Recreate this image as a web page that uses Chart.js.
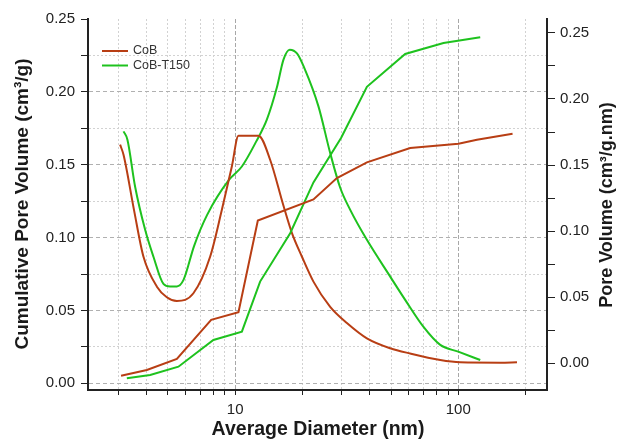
<!doctype html>
<html lang="en">
  <head>
    <meta charset="UTF-8" />
    <title>Pore Size Distribution</title>
    <script src="https://cdn.jsdelivr.net/npm/chart.js"></script>
    <style>
      html,
      body {
        margin: 0;
        padding: 0;
        background: #fff;
      }
      canvas {
        display: block;
      }
    </style>
  </head>
  <body>
    <canvas id="poreChart" width="617" height="442"></canvas>

    <script>
      // values (diameter in nm)
      const seriesNames = ["CoB", "CoB-T150"];
      const seriesColors = ["#B83E14", "#1EC21E"];

      // cumulative pore volume (left axis)
      const cobCumD = [3.08, 4.02, 5.48, 7.81, 10.35, 12.64, 22.44, 28.58, 38.96, 60.9, 100.3, 121.3, 175.2];
      const cobCumV = [0.0052, 0.0091, 0.0167, 0.0435, 0.0488, 0.1117, 0.1262, 0.1408, 0.1516, 0.1614, 0.1644, 0.1671, 0.1712];
      const t150CumD = [3.27, 4.16, 5.57, 7.99, 10.72, 12.94, 17.65, 22.44, 29.88, 38.96, 57.84, 85.9, 125.5];
      const t150CumV = [0.0034, 0.0057, 0.0114, 0.0297, 0.0354, 0.0698, 0.103, 0.1379, 0.1685, 0.2035, 0.226, 0.2335, 0.2374];

      // pore volume distribution (right axis)
      const cobDistD = [3.05, 3.16, 3.52, 3.88, 4.46, 4.94, 5.48, 6.5, 7.73, 8.72, 9.66, 10.35, 12.72, 14.35, 16.42, 17.96, 19.91, 22.44, 26.67, 31.69, 38.96, 49.56, 60.9, 83.05, 102.1, 154.3, 183.4];
      const cobDistV = [0.1654, 0.1578, 0.1161, 0.0808, 0.058, 0.05, 0.0472, 0.053, 0.0808, 0.1161, 0.1487, 0.1722, 0.1722, 0.154, 0.1199, 0.0987, 0.0808, 0.0618, 0.0427, 0.0305, 0.0189, 0.0114, 0.0074, 0.0025, 0.0008, 0.0005, 0.0008];
      const t150DistD = [3.16, 3.29, 3.56, 3.95, 4.3, 4.77, 5.11, 5.48, 5.87, 6.55, 7.49, 9.4, 10.72, 12.42, 13.87, 15.38, 16.47, 17.56, 18.97, 20.39, 23.63, 26.67, 29.58, 32.8, 38.96, 49.56, 57.84, 69.9, 83.05, 100, 125.5];
      const t150DistV = [0.1755, 0.1692, 0.1338, 0.101, 0.0808, 0.0601, 0.0582, 0.0582, 0.0631, 0.0889, 0.1123, 0.1389, 0.1489, 0.1677, 0.1843, 0.2086, 0.2298, 0.2373, 0.2343, 0.2237, 0.1944, 0.1591, 0.1328, 0.1161, 0.0934, 0.0656, 0.048, 0.0275, 0.0139, 0.0088, 0.0025];

      // ticks
      const xTicks = [3, 4, 5, 6, 7, 8, 9, 10, 20, 30, 40, 50, 60, 70, 80, 90, 100, 200];
      const xLabels = [10, 100];
      const yTicks = [0, 0.025, 0.05, 0.075, 0.1, 0.125, 0.15, 0.175, 0.2, 0.225, 0.25];

      const xTitle = "Average Diameter (nm)";
      const yTitle = "Cumulative Pore Volume (cm³/g)";
      const y1Title = "Pore Volume (cm³/g.nm)";

      const FONT = '"Liberation Sans", Arial, sans-serif';

      function pts(xs, ys) {
        return xs.map((x, i) => ({ x: x, y: ys[i] }));
      }
      function isMajor(v) {
        const r = v / 0.05;
        return Math.abs(r - Math.round(r)) < 1e-6;
      }
      function setTicks(values) {
        return (scale) => {
          scale.ticks = values.map((v) => ({ value: v }));
        };
      }

      // titles and inside legend
      const decorations = {
        id: "decorations",
        afterDraw(chart) {
          const ctx = chart.ctx;
          const area = chart.chartArea;
          ctx.save();
          ctx.fillStyle = "#1a1a1a";
          ctx.textAlign = "center";
          ctx.textBaseline = "middle";

          ctx.font = "bold 19.5px " + FONT;
          ctx.fillText(xTitle, 318, 430);

          ctx.save();
          ctx.font = "bold 19px " + FONT;
          ctx.translate(23, 204);
          ctx.rotate(-Math.PI / 2);
          ctx.fillText(yTitle, 0, 0);
          ctx.restore();

          ctx.save();
          ctx.font = "bold 18px " + FONT;
          ctx.translate(607, 205);
          ctx.rotate(-Math.PI / 2);
          ctx.fillText(y1Title, 0, 0);
          ctx.restore();

          // legend
          ctx.font = "12.5px " + FONT;
          ctx.textAlign = "left";
          seriesNames.forEach((name, i) => {
            const y = area.top + 32 + i * 14.5;
            ctx.strokeStyle = seriesColors[i];
            ctx.lineWidth = 2;
            ctx.beginPath();
            ctx.moveTo(area.left + 14, y);
            ctx.lineTo(area.left + 40, y);
            ctx.stroke();
            ctx.fillStyle = "#333";
            ctx.fillText(name, area.left + 45, y);
          });
          ctx.restore();
        },
      };

      const lineStyle = {
        borderWidth: 2,
        pointRadius: 0,
        fill: false,
      };

      new Chart(document.getElementById("poreChart").getContext("2d"), {
        type: "line",
        data: {
          datasets: [
            { ...lineStyle, label: seriesNames[0], data: pts(cobCumD, cobCumV), borderColor: seriesColors[0], yAxisID: "y", tension: 0 },
            { ...lineStyle, label: seriesNames[1], data: pts(t150CumD, t150CumV), borderColor: seriesColors[1], yAxisID: "y", tension: 0 },
            { ...lineStyle, label: seriesNames[0], data: pts(cobDistD, cobDistV), borderColor: seriesColors[0], yAxisID: "y1", cubicInterpolationMode: "monotone" },
            { ...lineStyle, label: seriesNames[1], data: pts(t150DistD, t150DistV), borderColor: seriesColors[1], yAxisID: "y1", cubicInterpolationMode: "monotone" },
          ],
        },
        options: {
          responsive: false,
          animation: false,
          layout: { padding: { top: 19, left: 0, right: 0, bottom: 0 } },
          plugins: {
            legend: { display: false },
            tooltip: { enabled: false },
          },
          scales: {
            x: {
              type: "logarithmic",
              min: 2.19,
              max: 250,
              afterBuildTicks: setTicks(xTicks),
              afterFit: (s) => { s.height = 52; },
              border: {
                display: true,
                color: "#222",
                width: 2,
                dash: (c) => (c.tick && xLabels.includes(c.tick.value) ? [4, 2] : [2, 2]),
              },
              grid: {
                color: (c) => (c.tick && xLabels.includes(c.tick.value) ? "#a8a8a8" : "#d2d2d2"),
                tickColor: "#222",
                tickLength: 5,
                tickBorderDash: [],
              },
              ticks: {
                autoSkip: false,
                maxRotation: 0,
                padding: 6,
                color: "#222",
                font: { family: FONT, size: 15 },
                callback: (v) => (xLabels.includes(v) ? String(v) : ""),
              },
            },
            y: {
              position: "left",
              min: -0.0046,
              max: 0.25,
              afterBuildTicks: setTicks(yTicks),
              afterFit: (s) => { s.width = 88; },
              border: {
                display: true,
                color: "#222",
                width: 2,
                dash: (c) => (c.tick && isMajor(c.tick.value) ? [4, 3] : [2, 2]),
              },
              grid: {
                color: (c) => {
                  if (!c.tick || c.tick.value > 0.24) return "rgba(0,0,0,0)";
                  return isMajor(c.tick.value) ? "#b0b0b0" : "#d2d2d2";
                },
                tickColor: "#222",
                tickLength: 7,
                tickBorderDash: [],
              },
              ticks: {
                padding: 6,
                color: "#222",
                font: { family: FONT, size: 15 },
                callback: (v) => (isMajor(v) ? v.toFixed(2) : ""),
              },
            },
            y1: {
              position: "right",
              min: -0.0202,
              max: 0.2605,
              afterBuildTicks: setTicks(yTicks),
              afterFit: (s) => { s.width = 70; },
              border: { display: true, color: "#222", width: 2 },
              grid: {
                drawOnChartArea: false,
                tickColor: "#222",
                tickLength: 8,
                tickBorderDash: [],
              },
              ticks: {
                padding: 5,
                color: "#222",
                font: { family: FONT, size: 15 },
                callback: (v) => (isMajor(v) ? v.toFixed(2) : ""),
              },
            },
          },
        },
        plugins: [decorations],
      });
    </script>
  </body>
</html>
